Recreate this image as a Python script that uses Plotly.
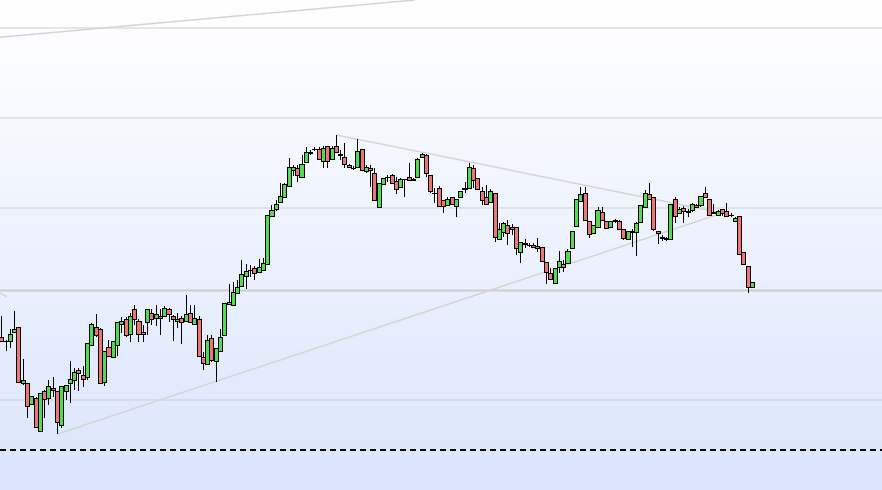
import plotly.graph_objects as go

# daily candles, oldest first
opens = [162.3, 159, 159, 167.3, 172.7, 116.3, 116.7, 95.7, 101.7, 68.3,
         108.7, 101.3, 112, 109, 75, 109, 116.3, 119.3, 129.7, 124.7,
         122.7, 154.3, 172.7, 170.7, 117.7, 152.7, 142.3, 154.3, 175.7, 180.7,
         165.7, 190.7, 178.3, 167.7, 177.7, 186.7, 181.7, 184, 183.3, 190.7,
         183.3, 178.3, 181.7, 178.3, 186.7, 175.7, 180.7, 142.7, 135.7, 161.7,
         138.3, 148.3, 164.3, 196, 194.3, 206.7, 213.3, 223.3, 229.3, 231.7,
         228, 229.3, 235.7, 284, 290.7, 297.3, 302.3, 314, 330, 331.7,
         322.7, 337.7, 347.7, 350.8, 351, 339, 353.3, 340.7, 354, 345,
         342.7, 335, 331.7, 332.7, 350.7, 328.3, 331.3, 326.7, 292.7, 315.7,
         322.3, 324.3, 319, 312.7, 320.7, 322.7, 321, 322.7, 342.7, 345,
         325, 306.7, 311.7, 300, 295, 303, 294, 303, 311, 312,
         332, 322, 309, 303, 298, 307, 261, 268, 275, 273,
         273, 248, 256, 255, 255, 254, 253, 238, 227, 217,
         233, 236, 237, 252, 274, 299, 307, 279, 267, 273,
         288, 279, 273, 279, 279, 271, 261, 268, 268, 278,
         293, 306, 303, 269, 263, 261, 261, 301, 287, 292,
         288, 290, 295, 295, 307, 301, 286.5, 285, 291, 289,
         284.3, 279, 284, 248, 234, 213]
highs = [184, 160, 170.7, 189, 173, 140.7, 117, 104, 103.3, 106.7,
         110, 120, 122.7, 109, 113.3, 114.7, 139.3, 132.3, 132.3, 134,
         156.7, 176.7, 186, 171.7, 149, 160, 158.3, 178.3, 183.3, 183.3,
         186.7, 195, 181, 175, 190.7, 190.7, 195, 190.7, 194, 192,
         185, 186.7, 184, 205, 195, 195, 184, 148.3, 165, 165,
         151.7, 170.7, 196.7, 216, 218.3, 220, 240, 235.7, 235, 234,
         241, 241.7, 285, 295, 300, 316.7, 317.3, 341.7, 335, 335,
         345, 352.7, 350, 353, 353.3, 354, 354, 354, 365, 350,
         356.7, 335.7, 334, 361, 350.7, 335, 335, 331.7, 316.7, 321.7,
         325, 326, 323.3, 321.7, 321, 336.7, 322, 341.7, 347, 346,
         325, 311.7, 314, 300, 303.3, 303, 301, 309, 318, 337,
         335, 322, 313, 315, 311, 307, 277, 278, 280, 276,
         273, 258, 261, 257, 257, 262, 253, 238, 232, 232,
         249, 240, 251, 269, 301, 313, 313, 279, 275, 293,
         293, 279, 279, 281, 280, 271, 269, 271, 278, 295,
         310, 317, 303, 269, 265, 263, 296, 303.3, 293, 294,
         291, 296.7, 296, 304, 313.3, 301, 296, 290, 291, 297,
         287, 283.3, 284, 248, 234, 218]
lows = [159, 149, 152.3, 167.3, 116.7, 115, 82.3, 95, 72.7, 68.3,
        82.3, 95, 103.3, 66, 71.7, 100, 96.7, 110, 109, 113.3,
        120, 154.3, 163.3, 116.7, 114.3, 143.3, 142.3, 144.3, 166.7, 163.3,
        158.3, 175, 158.3, 158.3, 165, 175, 174.3, 165, 183.3, 178.3,
        159.3, 172.3, 156, 178.3, 177.7, 175.7, 143.3, 130, 135.7, 138.3,
        117.7, 148.3, 164.3, 195, 194.3, 206.7, 213.3, 210.7, 222.7, 220,
        227, 229.3, 235.7, 284, 289, 297.3, 302.3, 314, 324, 318.3,
        322.7, 337.7, 345, 349, 341, 331.7, 331.7, 340.7, 347.7, 340,
        332.3, 331.7, 330, 332.7, 330, 326.7, 313.3, 299.3, 292.7, 315.7,
        318.3, 316.7, 305.7, 312.7, 303.3, 320, 319, 322.7, 342.7, 322.7,
        307, 296.7, 293, 287, 295, 296, 283, 303, 307, 311,
        312, 311, 295, 295, 298, 258, 261, 263, 255, 265,
        245, 237, 252, 253, 252.5, 248, 239, 216, 221, 217,
        227, 228, 237, 252, 274, 299, 280, 262, 267, 273,
        280, 272, 273, 277, 271, 260, 261, 253, 244, 278,
        293, 301, 269, 256, 259, 259, 261, 277, 287, 277,
        283.3, 288.3, 293, 292.7, 303, 285, 286.5, 285, 284, 283.3,
        283.3, 279, 246, 236, 207, 213]
closes = [159, 158.5, 165.7, 170.7, 117.3, 119.7, 93.3, 103.3, 72.7, 106.7,
          100.3, 113.3, 109.3, 77.7, 113.3, 114.7, 120.7, 127.7, 126.3, 120.3,
          156.7, 175.7, 164.3, 116.7, 149, 143.3, 158.3, 177.7, 178.3, 164.3,
          183.3, 180.7, 165.7, 165.7, 190.7, 180.7, 185.7, 181.7, 191.7, 185.7,
          180.7, 180.7, 177.7, 186, 177.7, 181.7, 143.3, 136.7, 160, 140,
          151.7, 162.7, 196.7, 197.7, 207.7, 212.7, 225.7, 229, 230, 226.7,
          233, 236.7, 285, 290, 296, 304, 316, 332.7, 333, 325,
          335.7, 347.7, 346.7, 351, 341, 351.7, 339, 351.7, 347.7, 345.2,
          335.7, 332.7, 331.5, 348.3, 330, 332.7, 329.7, 299.3, 316.7, 321.7,
          322.1, 316.7, 310.7, 321, 320.5, 320, 319.3, 340.7, 345.7, 326.7,
          308.3, 306.5, 294, 294, 301, 296, 301, 309, 311.2, 333,
          320, 311, 300, 296, 309, 263, 271, 277, 267, 271,
          252, 258, 256.2, 254.8, 253, 252, 239, 228, 221, 232,
          239, 233, 249, 269, 301, 306, 280, 266, 275, 290,
          280, 272, 279, 279.2, 271, 262, 269, 268.2, 277, 295,
          307, 301, 271, 267, 261.5, 261.2, 296, 284, 291, 289,
          288.2, 296, 293, 304, 303, 285, 287.5, 289, 287, 284,
          284.5, 282, 246, 236, 213, 218]

# horizontal price levels, the dashed one separately
levels = [472, 382, 292, 100]
strong_level = 209.5
dashed_level = 50

# trend lines: (start index, start price, end index, end price)
trendlines = [
    (-0.4, 462.7, 96.3, 500),
    (78, 365, 168, 287),
    (13, 66, 168, 287),
    (-0.4, 207, 1.2, 203),
]

days = list(range(len(opens)))
up_col = "#50dc50"
down_col = "#ef7474"

body_top = [max(o, c) for o, c in zip(opens, closes)]
body_base = [min(o, c) for o, c in zip(opens, closes)]
body_len = [t - b for t, b in zip(body_top, body_base)]
body_col = [up_col if c >= o else down_col for o, c in zip(opens, closes)]

# plotly puts scatter above bars, so wicks stop at the body edges
wick_x, wick_y = [], []
for d, h, l, t, b in zip(days, highs, lows, body_top, body_base):
    wick_x += [d, d, None, d, d, None]
    wick_y += [t, h, None, l, b, None]

fig = go.Figure()
fig.add_trace(go.Bar(x=days, y=body_len, base=body_base, width=0.95,
                     marker=dict(color=body_col, line=dict(color="black", width=1)),
                     hoverinfo="skip"))
fig.add_trace(go.Scatter(x=wick_x, y=wick_y, mode="lines",
                         line=dict(color="black", width=1), hoverinfo="skip"))

# soft vertical gradient behind the plot
shapes = []
n = 70
top = (255, 255, 255)
bottom = (218, 228, 251)
for i in range(n):
    t = (i + 0.5) / n
    c = tuple(round(top[k] + (bottom[k] - top[k]) * t) for k in range(3))
    shapes.append(dict(type="rect", xref="paper", yref="paper",
                       x0=0, x1=1, y0=1 - (i + 1) / n, y1=1 - i / n + 0.001,
                       fillcolor="rgb(%d,%d,%d)" % c, line_width=0, layer="below"))

for lv in levels:
    shapes.append(dict(type="line", xref="paper", yref="y", x0=0, x1=1, y0=lv, y1=lv,
                       line=dict(color="#cfcfcf", width=1), layer="below"))
shapes.append(dict(type="line", xref="paper", yref="y", x0=0, x1=1,
                   y0=strong_level, y1=strong_level,
                   line=dict(color="#cdcdcd", width=2), layer="below"))
shapes.append(dict(type="line", xref="paper", yref="y", x0=0, x1=1,
                   y0=dashed_level, y1=dashed_level,
                   line=dict(color="black", width=2, dash="6px,4px")))
for x0, y0, x1, y1 in trendlines:
    shapes.append(dict(type="line", xref="x", yref="y", x0=x0, y0=y0, x1=x1, y1=y1,
                       line=dict(color="#d4d4d4", width=1.5), layer="below"))

fig.update_layout(
    width=882, height=490,
    margin=dict(l=0, r=0, t=0, b=0),
    paper_bgcolor="white", plot_bgcolor="white",
    showlegend=False,
    shapes=shapes,
    xaxis=dict(range=[-0.4, 205.2], visible=False, showgrid=False),
    yaxis=dict(range=[10, 500], visible=False, showgrid=False),
)

# no body margin, and crisp pixel edges on candles so they don't smear
js = ("document.body.style.margin='0';"
      "document.querySelectorAll('.barlayer path, .scatterlayer path')"
      ".forEach(p => p.style.shapeRendering = 'crispEdges');")
fig.write_html("out.html", config={"displayModeBar": False}, post_script=js)
